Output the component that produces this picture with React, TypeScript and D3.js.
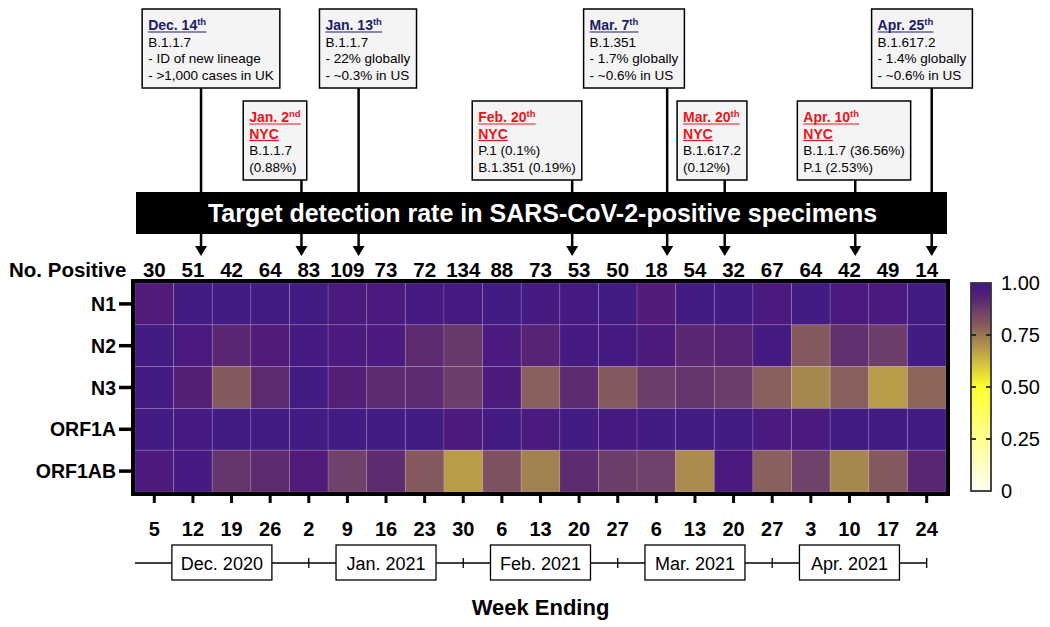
import React, { useEffect, useRef } from "react";
import * as d3 from "d3";

// ---------- DATA ----------
const weekLabels = ["5", "12", "19", "26", "2", "9", "16", "23", "30", "6", "13", "20", "27", "6", "13", "20", "27", "3", "10", "17", "24"];
const positives = [30, 51, 42, 64, 83, 109, 73, 72, 134, 88, 73, 53, 50, 18, 54, 32, 67, 64, 42, 49, 14];
const targets = ["N1", "N2", "N3", "ORF1A", "ORF1AB"];
const rateN1 = [0.95, 0.99, 0.99, 0.99, 0.99, 0.97, 0.97, 0.98, 0.98, 0.99, 0.98, 0.98, 0.99, 0.95, 0.99, 0.99, 0.97, 0.99, 0.97, 0.97, 0.99];
const rateN2 = [0.99, 0.97, 0.92, 0.95, 0.98, 0.97, 0.97, 0.91, 0.88, 0.97, 0.93, 0.98, 0.98, 0.96, 0.92, 0.93, 0.98, 0.8, 0.9, 0.87, 0.99];
const rateN3 = [0.99, 0.94, 0.8, 0.91, 0.99, 0.94, 0.91, 0.91, 0.87, 0.96, 0.79, 0.91, 0.8, 0.87, 0.89, 0.87, 0.79, 0.72, 0.79, 0.68, 0.78];
const rateORF1A = [0.99, 0.98, 0.99, 0.99, 0.99, 0.99, 0.99, 0.99, 0.96, 0.99, 0.97, 0.99, 0.98, 0.99, 0.99, 0.99, 0.97, 0.97, 0.99, 0.99, 0.99];
const rateORF1AB = [0.96, 0.98, 0.89, 0.91, 0.95, 0.86, 0.91, 0.8, 0.68, 0.82, 0.73, 0.91, 0.87, 0.86, 0.71, 0.97, 0.79, 0.86, 0.72, 0.8, 0.92];
const rates = [rateN1, rateN2, rateN3, rateORF1A, rateORF1AB];

const months = ["Dec. 2020", "Jan. 2021", "Feb. 2021", "Mar. 2021", "Apr. 2021"];
const monthBounds = [-0.5, 4, 8, 12, 16, 20]; // in week-column units

const colorTicks = [0, 0.25, 0.5, 0.75, 1];
const colorTickLabels = ["0", "0.25", "0.50", "0.75", "1.00"];

const annDates = ["Dec. 14", "Jan. 2", "Jan. 13", "Feb. 20", "Mar. 7", "Mar. 20", "Apr. 10", "Apr. 25"];
const annSup = ["th", "nd", "th", "th", "th", "th", "th", "th"];
const annNYC = [false, true, false, true, false, true, true, false];
const annText = [
  ["B.1.1.7", "- ID of new lineage", "- >1,000 cases in UK"],
  ["B.1.1.7", "(0.88%)"],
  ["B.1.1.7", "- 22% globally", "- ~0.3% in US"],
  ["P.1 (0.1%)", "B.1.351 (0.19%)"],
  ["B.1.351", "- 1.7% globally", "- ~0.6% in US"],
  ["B.1.617.2", "(0.12%)"],
  ["B.1.1.7 (36.56%)", "P.1 (2.53%)"],
  ["B.1.617.2", "- 1.4% globally", "- ~0.6% in US"],
];
// week-column position the arrow points at
const annPos = [1.21, 3.81, 5.29, 10.82, 13.28, 14.77, 18.15, 20.13];

// ---------- LAYOUT ----------
const W = 1050;
const H = 627;
const FONT = "'Liberation Sans', Arial, Helvetica, sans-serif";
const boxCenters = [211, 275, 368, 527, 634, 712, 854, 922];

export default function App() {
  const ref = useRef<SVGSVGElement>(null);

  useEffect(() => {
    const svg = d3.select(ref.current);
    svg.selectAll("*").remove();
    svg.style("font-family", FONT);

    const left = 135, right = 946, top = 283, bottom = 492;
    const xb = d3.scaleBand<number>().domain(d3.range(weekLabels.length)).range([left, right]);
    const xc = d3.scaleLinear().domain([-0.5, weekLabels.length - 0.5]).range([left, right]);
    const yb = d3.scaleBand<string>().domain(targets).range([top, bottom]);

    const color = d3
      .scaleLinear<string>()
      .domain([0, 0.5, 0.68, 0.72, 0.8, 0.87, 0.91, 0.95, 1])
      .range(["#fffff4", "#ffff2e", "#b89c4a", "#a6874f", "#86595f", "#6e3e6b", "#5e2b70", "#521a79", "#3e1b86"])
      .interpolate(d3.interpolateRgb)
      .clamp(true);

    // ---- heatmap cells ----
    const cells: { r: number; c: number; v: number }[] = [];
    rates.forEach((row, r) => row.forEach((v, c) => cells.push({ r, c, v })));
    svg
      .append("g")
      .selectAll("rect")
      .data(cells)
      .join("rect")
      .attr("x", (d) => xb(d.c)!)
      .attr("y", (d) => yb(targets[d.r])!)
      .attr("width", xb.bandwidth())
      .attr("height", yb.bandwidth())
      .attr("fill", (d) => color(d.v))
      .attr("stroke", "rgba(255,255,255,0.12)")
      .attr("stroke-width", 1);

    // border
    svg
      .append("rect")
      .attr("x", left - 2)
      .attr("y", top - 2)
      .attr("width", right - left + 4)
      .attr("height", bottom - top + 4)
      .attr("fill", "none")
      .attr("stroke", "#000")
      .attr("stroke-width", 4);

    // left axis
    const gy = svg.append("g");
    targets.forEach((t) => {
      const yy = yb(t)! + yb.bandwidth() / 2;
      gy.append("line").attr("x1", 119).attr("x2", left - 3).attr("y1", yy).attr("y2", yy).attr("stroke", "#000").attr("stroke-width", 3.5);
      gy.append("text")
        .attr("x", 116)
        .attr("y", yy)
        .attr("text-anchor", "end")
        .attr("dominant-baseline", "central")
        .attr("font-size", 19.5)
        .attr("font-weight", "bold")
        .text(t);
    });

    // bottom axis
    const gx = svg.append("g");
    weekLabels.forEach((w, i) => {
      const xx = xb(i)! + xb.bandwidth() / 2;
      gx.append("line").attr("x1", xx).attr("x2", xx).attr("y1", bottom + 2).attr("y2", bottom + 11).attr("stroke", "#000").attr("stroke-width", 3);
      gx.append("text")
        .attr("x", xx)
        .attr("y", 536)
        .attr("text-anchor", "middle")
        .attr("font-size", 20)
        .attr("font-weight", "bold")
        .text(w);
    });

    // No. Positive
    svg.append("text").attr("x", 9).attr("y", 277).attr("font-size", 20.5).attr("font-weight", "bold").text("No. Positive");
    positives.forEach((p, i) => {
      svg
        .append("text")
        .attr("x", xb(i)! + xb.bandwidth() / 2)
        .attr("y", 277)
        .attr("text-anchor", "middle")
        .attr("font-size", 20.5)
        .attr("font-weight", "bold")
        .text(p);
    });

    // month axis
    const my = 563;
    const gm = svg.append("g");
    gm.append("line")
      .attr("x1", xc(monthBounds[0]))
      .attr("x2", xc(monthBounds[monthBounds.length - 1]))
      .attr("y1", my)
      .attr("y2", my)
      .attr("stroke", "#000")
      .attr("stroke-width", 1.3);
    monthBounds.slice(1).forEach((b) => {
      gm.append("line").attr("x1", xc(b)).attr("x2", xc(b)).attr("y1", my - 5).attr("y2", my + 5).attr("stroke", "#000").attr("stroke-width", 1.3);
    });
    months.forEach((m, i) => {
      const cx = (xc(monthBounds[i]) + xc(monthBounds[i + 1])) / 2;
      gm.append("rect")
        .attr("x", cx - 50)
        .attr("y", my - 18)
        .attr("width", 100)
        .attr("height", 35)
        .attr("fill", "#fff")
        .attr("stroke", "#000")
        .attr("stroke-width", 1.3);
      gm.append("text")
        .attr("x", cx)
        .attr("y", my + 6.5)
        .attr("text-anchor", "middle")
        .attr("font-size", 18)
        .text(m);
    });

    svg
      .append("text")
      .attr("x", (left + right) / 2)
      .attr("y", 615)
      .attr("text-anchor", "middle")
      .attr("font-size", 22)
      .attr("font-weight", "bold")
      .text("Week Ending");

    // colorbar
    const cbx = 971, cbw = 20;
    const cy = d3.scaleLinear().domain([0, 1]).range([491, 283]);
    const defs = svg.append("defs");
    const grad = defs.append("linearGradient").attr("id", "cbgrad").attr("x1", 0).attr("y1", 1).attr("x2", 0).attr("y2", 0);
    d3.range(0, 1.0001, 0.02).forEach((t) => {
      grad.append("stop").attr("offset", t).attr("stop-color", color(t));
    });
    svg
      .append("rect")
      .attr("x", cbx)
      .attr("y", cy(1))
      .attr("width", cbw)
      .attr("height", cy(0) - cy(1))
      .attr("fill", "url(#cbgrad)")
      .attr("stroke", "#333")
      .attr("stroke-width", 1.8);
    colorTicks.forEach((t, i) => {
      if (t > 0 && t < 1) {
        svg.append("line").attr("x1", cbx).attr("x2", cbx + 5).attr("y1", cy(t)).attr("y2", cy(t)).attr("stroke", "#222").attr("stroke-width", 1.8);
        svg.append("line").attr("x1", cbx + cbw - 5).attr("x2", cbx + cbw).attr("y1", cy(t)).attr("y2", cy(t)).attr("stroke", "#222").attr("stroke-width", 1.8);
      }
      svg
        .append("text")
        .attr("x", 1001)
        .attr("y", cy(t))
        .attr("dominant-baseline", "central")
        .attr("font-size", 20)
        .text(colorTickLabels[i]);
    });

    // title bar
    const barTop = 192, barBot = 234;
    svg.append("rect").attr("x", left + 1).attr("y", barTop).attr("width", right - left).attr("height", barBot - barTop).attr("fill", "#000");
    svg
      .append("text")
      .attr("x", (left + right) / 2 + 2)
      .attr("y", 222)
      .attr("text-anchor", "middle")
      .attr("fill", "#fff")
      .attr("font-size", 25)
      .attr("font-weight", "bold")
      .text("Target detection rate in SARS-CoV-2-positive specimens");

    // annotations
    const fs = 13.5;
    const lh = 16.5;
    annDates.forEach((dt, i) => {
      const nyc = annNYC[i];
      const boxTop = nyc ? 101 : 9;
      const boxH = 79;
      const ax = xc(annPos[i]);
      const g = svg.append("g");

      // stem to bar
      g.append("line").attr("x1", ax).attr("x2", ax).attr("y1", boxTop + boxH).attr("y2", barTop).attr("stroke", "#000").attr("stroke-width", 2.5);
      // arrow below bar
      g.append("line").attr("x1", ax).attr("x2", ax).attr("y1", barBot).attr("y2", 248).attr("stroke", "#000").attr("stroke-width", 2.5);
      g.append("path")
        .attr("d", d3.line()([[ax - 6, 246], [ax + 6, 246], [ax, 256]]) + "Z")
        .attr("fill", "#000");

      const rect = g.append("rect").attr("y", boxTop).attr("height", boxH).attr("fill", "#f4f4f4").attr("stroke", "#000").attr("stroke-width", 1.5);
      const tg = g.append("g");
      const headColor = nyc ? "#e8161b" : "#1c1a6c";
      let yy = boxTop + 21;
      const widths: number[] = [];
      const underlines: { y: number; el: any }[] = [];

      const h = tg.append("text").attr("y", yy).attr("font-size", fs + 0.5).attr("font-weight", "bold").attr("fill", headColor);
      h.append("tspan").text(dt);
      h.append("tspan").attr("dy", -5).attr("font-size", 9.5).text(annSup[i]);
      underlines.push({ y: yy, el: h });
      yy += lh;
      if (nyc) {
        const h2 = tg.append("text").attr("y", yy).attr("font-size", fs + 0.5).attr("font-weight", "bold").attr("fill", headColor).text("NYC");
        underlines.push({ y: yy, el: h2 });
        yy += lh;
      }
      const bodyEls: any[] = [];
      annText[i].forEach((ln) => {
        const t = tg.append("text").attr("y", yy).attr("font-size", fs).attr("fill", "#000").text(ln);
        bodyEls.push(t);
        yy += lh;
      });
      [...underlines.map((u) => u.el), ...bodyEls].forEach((el) => {
        widths.push((el.node() as SVGTextElement).getBBox().width);
      });
      const bw = (d3.max(widths) || 0) + 12;
      const bx = boxCenters[i] - bw / 2;
      rect.attr("x", bx).attr("width", bw);
      tg.selectAll("text").attr("x", bx + 6);
      underlines.forEach((u) => {
        const w = (u.el.node() as SVGTextElement).getBBox().width;
        tg.append("line")
          .attr("x1", bx + 6)
          .attr("x2", bx + 6 + w)
          .attr("y1", u.y + 2)
          .attr("y2", u.y + 2)
          .attr("stroke", headColor)
          .attr("stroke-width", 1.2);
      });
    });
  }, []);

  return <svg ref={ref} width={W} height={H} style={{ position: "absolute", left: 0, top: 0, display: "block", background: "#fff" }} />;
}
